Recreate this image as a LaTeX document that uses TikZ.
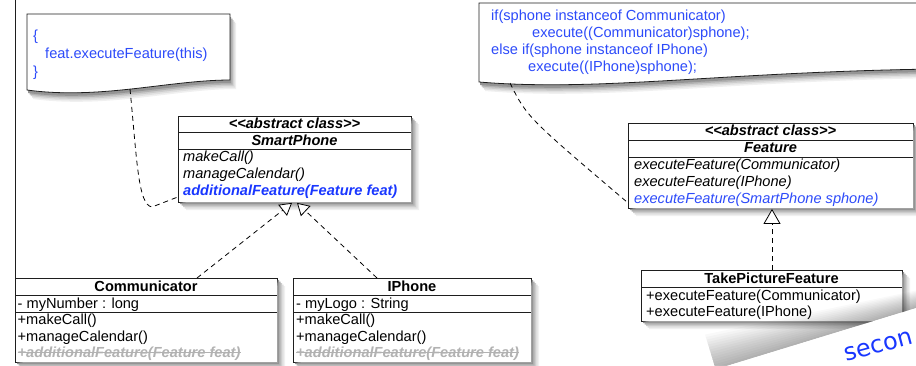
\documentclass[tikz,border=0pt]{standalone}
\usepackage{fontspec}
\setmainfont{Liberation Sans}
\newfontfamily\curlfont{DejaVu Sans}
\usetikzlibrary{arrows.meta,calc}

\definecolor{notecol}{RGB}{45,75,250}
\definecolor{boldblue}{RGB}{25,55,255}
\definecolor{strikegray}{RGB}{178,178,178}
\definecolor{edgecol}{RGB}{30,30,30}
\newcommand{\dfont}{\fontsize{14.6}{17}\selectfont}
% L-shaped shadow strip outside a box: x y w h d colour
\newcommand{\shadeL}[6]{%
  \fill[#6] (#1+#3,#2+#5) -- (#1+#3+#5,#2+#5) -- (#1+#3+#5,#2+#4+#5)
    -- (#1+#5,#2+#4+#5) -- (#1+#5,#2+#4) -- (#1+#3,#2+#4) -- cycle;}
\newcommand{\softshade}[4]{%
  \shadeL{#1}{#2}{#3}{#4}{7.5}{black!6}
  \shadeL{#1}{#2}{#3}{#4}{6}{black!12}
  \shadeL{#1}{#2}{#3}{#4}{4.5}{black!20}
  \shadeL{#1}{#2}{#3}{#4}{3}{black!30}
  \shadeL{#1}{#2}{#3}{#4}{1.5}{black!42}
}
% soft shadow under a note path given as argument
\newcommand{\noteshade}[1]{%
  \fill[black!6,  shift={(6,9)}] #1;
  \fill[black!12, shift={(5,7.5)}] #1;
  \fill[black!20, shift={(3.5,6)}] #1;
  \fill[black!30, shift={(2.5,4.5)}] #1;
  \fill[black!42, shift={(1,3)}] #1;
}

\tikzset{
  umlbox/.style={draw=edgecol, fill=white, line width=0.9pt, inner sep=0pt,
    anchor=north west},
  notepath/.style={draw=edgecol, fill=white, line width=0.8pt},
  txt/.style={inner sep=0pt, anchor=base west, font=\dfont},
  ctxt/.style={inner sep=0pt, anchor=base, font=\dfont\bfseries},
  cit/.style={inner sep=0pt, anchor=base, font=\dfont\bfseries\itshape},
  mit/.style={txt, font=\dfont\itshape},
  ntxt/.style={txt, text=notecol},
  divider/.style={draw=edgecol, line width=0.9pt},
  dep/.style={draw=black, line width=0.8pt, dash pattern=on 5pt off 4pt},
  gen/.style={dep, -{Triangle[length=12pt,width=14pt,fill=white]}},
  genbig/.style={dep, -{Triangle[length=15pt,width=17pt,fill=white]}},
  strike/.style={draw=strikegray, line width=0.8pt},
}

\begin{document}
\begin{tikzpicture}[x=1pt,y=-1pt]
\useasboundingbox (0,0) rectangle (916,365);
\fill[white] (0,0) rectangle (916,365);

% left frame line
\draw[edgecol, line width=0.9pt] (15,0) -- (15,278);

% ---------- notes ----------
\noteshade{(27,14) -- (230,14) -- (230,80) .. controls (170,80) and (100,100) .. (27,90) -- cycle}
\filldraw[notepath] (27,14) -- (230,14) -- (230,80)
  .. controls (170,80) and (100,100) .. (27,90) -- cycle;
\node[ntxt] (n1a) at (33,40) {\{};
\node[ntxt] (n1b) at (45,58) {feat.executeFeature(this)};
\node[ntxt] (n1c) at (33,76) {\}};
\coordinate (n1bot) at (130,89);

\noteshade{(479,3) -- (935,3) -- (935,69) .. controls (720,72) and (600,92) .. (479,82) -- cycle}
\filldraw[notepath] (479,3) -- (935,3) -- (935,69)
  .. controls (720,72) and (600,92) .. (479,82) -- cycle;
\node[ntxt] (n2a) at (491,20.5) {if(sphone instanceof Communicator)};
\node[ntxt] (n2b) at (532,37.5) {execute((Communicator)sphone);};
\node[ntxt] (n2c) at (491,54.5) {else if(sphone instanceof IPhone)};
\node[ntxt] (n2d) at (528,71.5) {execute((IPhone)sphone);};
\coordinate (n2bot) at (510,83);

% ---------- SmartPhone ----------
\node[umlbox, minimum width=233pt, minimum height=86pt] (sp) at (178,116) {};
\draw[divider] (178,132) -- (411,132);
\draw[divider] (178,149) -- (411,149);
\node[cit] (spst) at (294.5,128) {<\kern0pt<abstract class>\kern0pt>};
\node[cit] (spname) at (294.5,145) {SmartPhone};
\node[mit] (spm1) at (183,161) {makeCall()};
\node[mit] (spm2) at (183,178) {manageCalendar()};
\node[txt, font=\dfont\bfseries\itshape, text=boldblue] (spm3) at (183,195) {additionalFeature(Feature feat)};

% ---------- Communicator ----------
\node[umlbox, minimum width=262pt, minimum height=84pt] (cm) at (15,278) {};
\draw[divider] (15,295) -- (277,295);
\draw[divider] (15,312) -- (277,312);
\node[ctxt] (cmname) at (146,291.5) {Communicator};
\node[txt] (cma) at (17.5,308) {- myNumber : long};
\node[txt] (cmm1) at (17.5,324) {+makeCall()};
\node[txt] (cmm2) at (17.5,341) {+manageCalendar()};
\node[txt, font=\dfont\bfseries\itshape, text=strikegray] (cmm3) at (17.5,357) {+additionalFeature(Feature feat)};
\draw[strike] ($(cmm3.base west)+(0,-4.3)$) -- ($(cmm3.base east)+(0,-4.3)$);

% ---------- IPhone ----------
\node[umlbox, minimum width=238pt, minimum height=84pt] (ip) at (293,278) {};
\draw[divider] (293,295) -- (531,295);
\draw[divider] (293,312) -- (531,312);
\node[ctxt] (ipname) at (412,291.5) {IPhone};
\node[txt] (ipa) at (296,308) {- myLogo : String};
\node[txt] (ipm1) at (296,324) {+makeCall()};
\node[txt] (ipm2) at (296,341) {+manageCalendar()};
\node[txt, font=\dfont\bfseries\itshape, text=strikegray] (ipm3) at (296,357) {+additionalFeature(Feature feat)};
\draw[strike] ($(ipm3.base west)+(0,-4.3)$) -- ($(ipm3.base east)+(0,-4.3)$);

% ---------- Feature ----------
\node[umlbox, minimum width=285pt, minimum height=85pt] (ft) at (628,123) {};
\draw[divider] (628,140) -- (913,140);
\draw[divider] (628,157) -- (913,157);
\node[cit] (ftst) at (770.5,135.5) {<\kern0pt<abstract class>\kern0pt>};
\node[cit] (ftname) at (770.5,152.5) {Feature};
\node[mit] (ftm1) at (634,169) {executeFeature(Communicator)};
\node[mit] (ftm2) at (634,186) {executeFeature(IPhone)};
\node[mit, text=notecol] (ftm3) at (634,203) {executeFeature(SmartPhone sphone)};

% ---------- TakePictureFeature ----------
\node[umlbox, minimum width=261pt, minimum height=51pt] (tp) at (641,270) {};
\draw[divider] (641,287) -- (902,287);
\node[ctxt] (tpname) at (771.5,283) {TakePictureFeature};
\node[txt] (tpm1) at (646,300) {+executeFeature(Communicator)};
\node[txt] (tpm2) at (646,316) {+executeFeature(IPhone)};

% ---------- shadows of the class boxes (outside the boxes) ----------
\softshade{178.5}{116.5}{233}{86}
\softshade{15.5}{278.5}{262}{84}
\softshade{293.5}{278.5}{238}{84}
\softshade{628.5}{123.5}{285}{85}
\softshade{641.5}{270.5}{261}{51}

% ---------- connectors ----------
\draw[dep] (n1bot) .. controls (137,160) and (138,205) .. (152,207) -- ($(sp.south west)+(0,-6)$);
\draw[dep] (n2bot) .. controls (527,117) .. ($(ft.south west)+(0,-6)$);
\draw[gen] ($(cm.north west)+(182,0)$) -- ($(sp.south west)+(114,0)$);
\draw[gen] ($(ip.north west)+(84,0)$) -- ($(sp.south west)+(119,0)$);
\draw[genbig] ($(tp.north west)+(131,0)$) -- ($(ft.south west)+(144,0)$);

% ---------- page curl ----------
\begin{scope}[shift={(730,365)}, rotate=17]
  \foreach \k in {1,...,14} {
    \fill[black, opacity=.024] (-15,0) -- (215,0) -- (215,-1.1*\k) -- (-15,-2.6*\k) -- cycle;
  }
  \fill[white] (-15,0) rectangle (215,90);
\end{scope}
\node[inner sep=0pt, anchor=base west, rotate=15, text=boldblue,
      font=\curlfont\fontsize{24}{24}\selectfont] (curl) at (846,362) {secon};
\end{tikzpicture}
\end{document}
